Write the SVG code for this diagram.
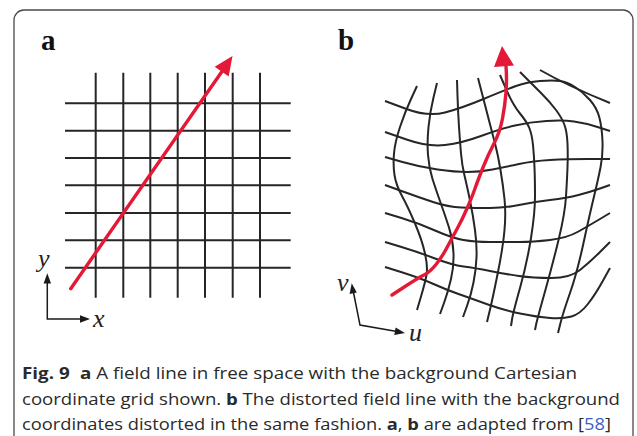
<svg xmlns="http://www.w3.org/2000/svg" width="637" height="436" viewBox="0 0 637 436">
<style>
.grid{fill:none;stroke:#262626;stroke-width:2;stroke-linecap:butt}
.red{fill:none;stroke:#e31937;stroke-width:3.4;stroke-linecap:round}
.redhead{fill:#e31937}
.axis{fill:none;stroke:#1a1a1a;stroke-width:1.5}
.axhead{fill:#1a1a1a}
.plabel{font-family:"Liberation Serif","Times New Roman",serif;font-weight:bold;font-size:29px;fill:#111}
.alabel{font-family:"Liberation Serif","Times New Roman",serif;font-style:italic;font-size:26px;fill:#222}
.cap{font-family:"Open Sans","Noto Sans","Liberation Sans",sans-serif;font-size:16.5px;fill:#2a2a2a}
.b{font-weight:bold}
.link{fill:#3a5fcd}
</style>
<rect x="14" y="10" width="619" height="500" rx="10" ry="10" fill="#fff" stroke="#4a4a4a" stroke-width="1.3"/>

<g id="panel-a">
  <text class="plabel" x="41" y="50">a</text>
  <g id="grid-a" class="grid">
    <path d="M95.7,72.7V297.7M123.3,72.7V297.7M150.3,72.7V297.7M177.7,72.7V297.7M205,72.7V297.7M232.7,72.7V297.7M260,72.7V297.7"/>
    <path d="M65,103.3H290.7M65,130.7H290.7M65,158H290.7M65,185.3H290.7M65,213H290.7M65,240.3H290.7M65,267.7H290.7"/>
  </g>
  <g id="field-line-a">
    <path class="red" d="M70.7,288.7L223,70"/>
    <polygon class="redhead" points="232.5,56 228.7,76.5 214.7,66.7"/>
  </g>
  <g id="axes-a">
    <path class="axis" d="M47.3,282V319H82"/>
    <polygon class="axhead" points="47.3,273.3 43.6,283.5 51,283.5"/>
    <polygon class="axhead" points="90,319 80,315.3 80,322.7"/>
    <text class="alabel" x="38" y="267">y</text>
    <text class="alabel" x="93" y="327">x</text>
  </g>
</g>

<g id="panel-b">
  <text class="plabel" x="338" y="50">b</text>
  <g id="grid-b" class="grid">
    <path d="M385,101 L406.5,109 Q428,117 445,112.5 Q462,108 483.5,99 Q505,90 516,86 Q527,82 540,81 Q553,80 560,81 Q567,82 575,87 Q583,92 590,100 Q597,108 599.5,118 Q602,128 602.5,141.5 Q603,155 600.5,167.5 Q598,180 594,196.5 Q590,213 583.5,243 Q577,273 570,293 Q563,313 560.5,323 L558,333"/>
    <path d="M385,132 L406.5,139.5 Q428,147 445,145 Q462,143 481,136 Q500,129 515,125.5 Q530,122 546.5,121 Q563,120 574,121.5 Q585,123 597.5,127 L610,131"/>
    <path d="M385,157 L402.5,162 Q420,167 437.5,169.5 Q455,172 467.5,172 Q480,172 492.5,169.5 Q505,167 519,164 Q533,161 550,160 Q567,159 588.5,159 L610,159"/>
    <path d="M385,185 L401.5,191 Q418,197 433,202 Q448,207 461.5,207.5 Q475,208 490,208 Q505,208 519,205 Q533,202 550,200 Q567,198 578.5,195 Q590,192 600,188.5 L610,185"/>
    <path d="M385,213 L401.5,218 Q418,223 435,230.5 Q452,238 463.5,240 Q475,242 490,242 Q505,242 519,242 Q533,242 550,240 Q567,238 578.5,231.5 Q590,225 600,219 L610,213"/>
    <path d="M385,242 L401.5,247 Q418,252 435,258.5 Q452,265 463.5,266.5 Q475,268 490,271 Q505,274 519,276 Q533,278 551.5,278 Q570,278 580,270 Q590,262 600,252 L610,242"/>
    <path d="M385,267 L402.5,272.5 Q420,278 433.5,284 Q447,290 458.5,294 Q470,298 486.5,304 Q503,310 520,313.5 Q537,317 550,318 Q563,319 571.5,316.5 Q580,314 587.5,304.5 Q595,295 602.5,281.5 L610,268"/>
    <path d="M417,86 L411,99 Q405,112 400,127 Q395,142 394,153.5 Q393,165 394.5,175 Q396,185 402,196 Q408,207 415,223.5 Q422,240 425,253.5 Q428,267 426.5,275 Q425,283 421,296.5 L417,310"/>
    <path d="M437,83 L433.5,97.5 Q430,112 428.5,127 Q427,142 428,155 Q429,168 432.5,179 Q436,190 440.5,202.5 Q445,215 449,227.5 Q453,240 453.5,253 Q454,266 451,279 Q448,292 444,303 L440,314"/>
    <path d="M457,80 L457.5,96 Q458,112 459,127 Q460,142 461,153.5 Q462,165 464.5,175.5 Q467,186 470,200.5 Q473,215 475,230 Q477,245 476.5,257.5 Q476,270 473.5,282.5 Q471,295 467,306 L463,317"/>
    <path d="M478,78 L481.5,91.5 Q485,105 488.5,118.5 Q492,132 495,143.5 Q498,155 500.5,170 Q503,185 504.5,199 Q506,213 504.5,230 Q503,247 498,272 Q493,297 490,309.5 L487,322"/>
    <path d="M500,75 L506.5,90 Q513,105 520,113.5 Q527,122 529.5,128.5 Q532,135 533,145 Q534,155 534.5,167.5 Q535,180 535,196.5 Q535,213 531,238 Q527,263 520,288 Q513,313 512,319.5 L511,326"/>
    <path d="M520,72 L526.5,78.5 Q533,85 541.5,93.5 Q550,102 556,110 Q562,118 564.5,125 Q567,132 567.5,143.5 Q568,155 567.5,167.5 Q567,180 566,196.5 Q565,213 559,238 Q553,263 545,291.5 Q537,320 536,325 L535,330"/>
    <path d="M540,70 Q568,86 610,103"/>
  </g>
  <g id="field-line-b">
    <path class="red" d="M392,295 L405,286.5 Q418,278 424,275 Q430,272 436,264.5 Q442,257 447,247.5 Q452,238 457,229 Q462,220 467,208.5 Q472,197 475,188.5 Q478,180 483,167.5 Q488,155 494,143.5 Q500,132 502.5,118.5 Q505,105 506,92.5 Q507,80 506,66"/>
    <polygon class="redhead" points="502,46 494,67 514,65.5"/>
  </g>
  <g id="axes-b">
    <path class="axis" d="M353.3,291.5L360,325L397,331.6"/>
    <polygon class="axhead" points="351.7,283.3 349.6,294 356.8,292.6"/>
    <polygon class="axhead" points="405,333 395.6,327.6 394.3,334.9"/>
    <text class="alabel" x="337" y="291">v</text>
    <text class="alabel" x="409" y="341">u</text>
  </g>
</g>

<g id="caption" class="cap">
  <text x="22" y="379" textLength="555" lengthAdjust="spacingAndGlyphs"><tspan class="b">Fig. 9</tspan><tspan class="b" dx="9">a</tspan> A field line in free space with the background Cartesian</text>
  <text x="22" y="405" textLength="598" lengthAdjust="spacingAndGlyphs">coordinate grid shown. <tspan class="b">b</tspan> The distorted field line with the background</text>
  <text x="22" y="430" textLength="589" lengthAdjust="spacingAndGlyphs">coordinates distorted in the same fashion. <tspan class="b">a</tspan>, <tspan class="b">b</tspan> are adapted from [<tspan class="link">58</tspan>]</text>
</g>
</svg>
